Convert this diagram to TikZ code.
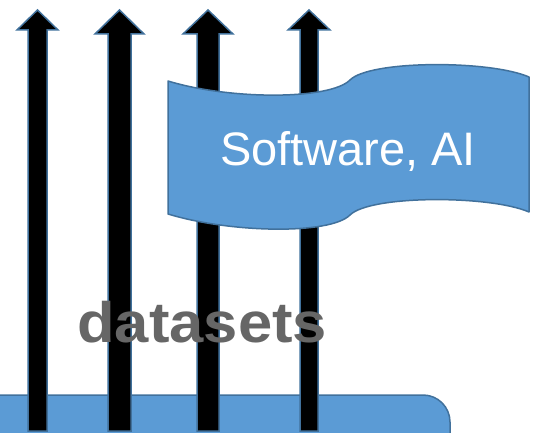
\documentclass[tikz,border=0pt]{standalone}
\usepackage{fontspec}
\setmainfont{Liberation Sans}
\definecolor{fillblue}{HTML}{5B9BD5}
\definecolor{lineblue}{HTML}{41719C}
\definecolor{txtgray}{HTML}{666666}
\begin{document}
\begin{tikzpicture}[x=1pt,y=-1pt,
  shapebox/.style={fill=fillblue,draw=lineblue,line width=1.5pt},
  uparrow/.style={fill=black,draw=lineblue,line width=1.5pt,line join=miter}]
\useasboundingbox (0,0) rectangle (539,433);
\begin{scope}
\clip (0,0) rectangle (539,433);
\draw[shapebox,rounded corners=27pt] (-30,395) rectangle (450,480);
\draw[uparrow] (28,431)--(28,30)--(17,30)--(37.5,10)--(58,30)--(47,30)--(47,431)--cycle;
\draw[uparrow] (108,431)--(108,34)--(95,34)--(119.5,10)--(144,34)--(131,34)--(131,431)--cycle;
\draw[uparrow] (197,431)--(197,34)--(183,34)--(208,10)--(233,34)--(219,34)--(219,431)--cycle;
\draw[uparrow] (300,431)--(300,30)--(288,30)--(309,10)--(330,30)--(318,30)--(318,431)--cycle;
\end{scope}
\draw[shapebox,line join=round] (168,81) .. controls (230,100) and (330,100) .. (350,80)
  .. controls (370,60) and (490,60) .. (529,77)
  -- (529,212) .. controls (490,195) and (370,195) .. (350,215)
  .. controls (330,235) and (230,233) .. (168,214) -- cycle;
\node[text=white,font=\fontsize{47}{50}\selectfont,anchor=base,inner sep=0] (sw) at (348,166) {Software, AI};
\node[text=txtgray,font=\fontsize{57}{60}\selectfont\bfseries,anchor=base west,inner sep=0,xscale=1.08] (ds) at (77,342) {datasets};
\end{tikzpicture}
\end{document}
